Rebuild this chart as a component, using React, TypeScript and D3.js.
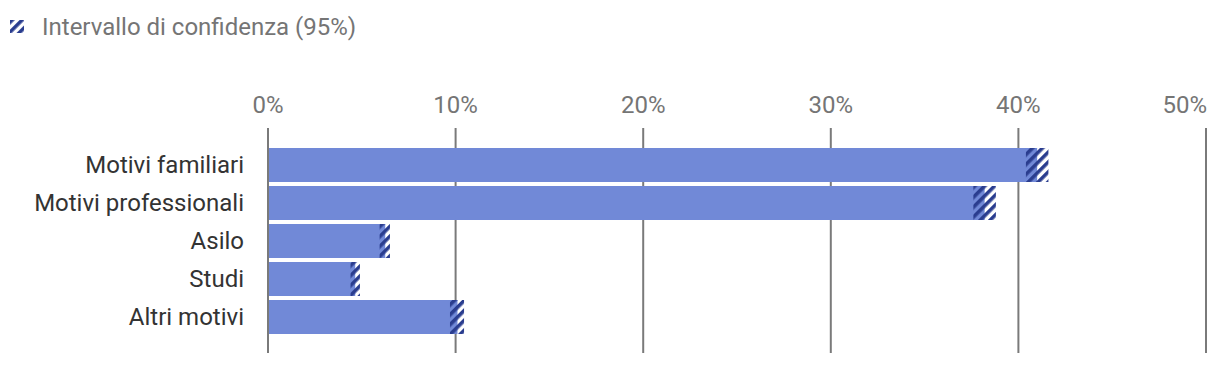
import React from "react";
import * as d3 from "d3";

const categories = ["Motivi familiari", "Motivi professionali", "Asilo", "Studi", "Altri motivi"];
const values = [41.0, 38.2, 6.25, 4.65, 10.1];
const ciLow = [40.4, 37.6, 5.95, 4.4, 9.7];
const ciHigh = [41.6, 38.8, 6.5, 4.9, 10.45];
const ticks = [0, 10, 20, 30, 40, 50];
const legendLabel = "Intervallo di confidenza (95%)";

const W = 1220;
const H = 366;
const FONT = "Roboto, 'Noto Sans', sans-serif";
const BAR = "#7189d7";
const DARK = "#2a3d8f";

export default function App() {
  const x = d3.scaleLinear().domain([0, 50]).range([268, 1206]);
  const y = d3.scaleBand<string>().domain(categories).range([146, 336]).paddingInner(4 / 38).paddingOuter(2 / 38);
  return (
    <svg width={W} height={H} style={{ position: "absolute", left: 0, top: 0, background: "#fff" }}>
      <defs>
        <pattern id="hatch" patternUnits="userSpaceOnUse" width="7" height="7" patternTransform="rotate(45)">
          <rect x="0" y="0" width="3.6" height="7" fill={DARK} />
        </pattern>
      </defs>
      <rect x={10} y={20} width={14} height={13} fill="url(#hatch)" />
      <text x={42} y={35} fontFamily={FONT} fontSize={24} fill="#757575">{legendLabel}</text>
      {ticks.map((t, i) => (
        <g key={t}>
          <line x1={x(t)} x2={x(t)} y1={128} y2={353} stroke="#7a7a7a" strokeWidth={2} />
          <text x={i === ticks.length - 1 ? x(t) + 1 : x(t)} y={113} textAnchor={i === ticks.length - 1 ? "end" : "middle"} fontFamily={FONT} fontSize={24} fill="#757575">{t}%</text>
        </g>
      ))}
      {categories.map((c, i) => (
        <g key={c}>
          <rect x={x(0) + 1} y={y(c)} width={x(values[i]) - x(0) - 1} height={y.bandwidth()} fill={BAR} />
          <rect x={x(ciLow[i])} y={y(c)} width={x(ciHigh[i]) - x(ciLow[i])} height={y.bandwidth()} fill="url(#hatch)" />
          <text x={244} y={(y(c) as number) + y.bandwidth() / 2} dy="0.35em" textAnchor="end" fontFamily={FONT} fontSize={24} fill="#333">{c}</text>
        </g>
      ))}
    </svg>
  );
}
